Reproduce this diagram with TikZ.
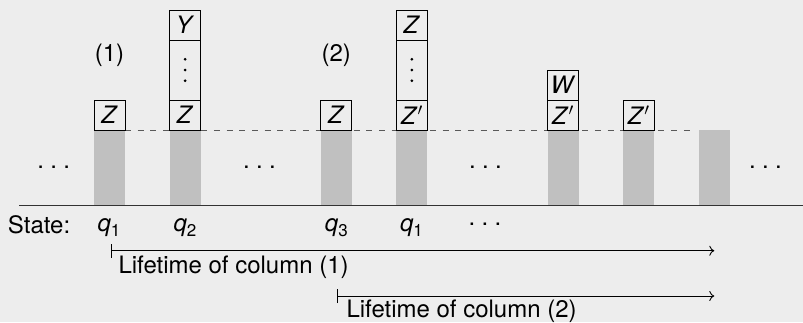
\documentclass[tikz,border=0pt]{standalone}
\usepackage{fontspec}
\setmainfont{TeX Gyre Heros}
\usetikzlibrary{arrows.meta}
\definecolor{bgcol}{HTML}{EDEDED}
\definecolor{barcol}{HTML}{C0C0C0}
\definecolor{rulecol}{HTML}{333333}

% three dots spread out horizontally
\newcommand{\hdotrow}{.\hspace{6.3pt}.\hspace{6.3pt}.}
% state symbol with an upright subscript
\newcommand{\stsym}[2]{\textit{#1}\raisebox{-4.5pt}{\fontsize{17}{20}\selectfont #2}}

\begin{document}
\begin{tikzpicture}[x=1pt,y=-1pt,
  every node/.style={font=\fontsize{24}{28}\selectfont, inner sep=0pt, outer sep=0pt},
  bar/.style={fill=barcol, minimum width=31pt, minimum height=75pt, anchor=south},
  cell/.style={draw=black, line width=0.9pt, minimum width=31pt, minimum height=30pt, anchor=south},
  tallcell/.style={cell, minimum height=60pt},
  vdot/.style={fill=black, circle, minimum size=3pt, anchor=center},
  lifetime/.style={line width=0.9pt, {Bar[width=14pt]}-{To[length=5pt,width=10pt]}},
  txt/.style={anchor=base west},
  sym/.style={anchor=base}
]
\fill[bgcol] (0,0) rectangle (803,322);
\useasboundingbox (0,0) rectangle (803,322);

% tape cells (gray columns)
\node[bar] (bar1) at (109.5,205) {};
\node[bar] (bar2) at (185.1,205) {};
\node[bar] (bar3) at (336.3,205) {};
\node[bar] (bar4) at (411.9,205) {};
\node[bar] (bar5) at (563.1,205) {};
\node[bar] (bar6) at (638.7,205) {};
\node[bar] (bar7) at (714.3,205) {};

% ground line and dashed level line
\coordinate (g0) at (19,205.5);
\coordinate (g1) at (803,205.5);
\draw[rulecol, line width=1.3pt] (g0) -- (g1);
\coordinate (d1) at (693,130);
\draw[black!65, line width=1pt, dash pattern=on 6pt off 6.7pt] (bar1.north east) -- (d1);

% stacks
\node[cell] (z1) at (bar1.north) {\textit{Z}};

\node[cell] (z2) at (bar2.north) {\textit{Z}};
\node[tallcell] (m2) at (z2.north) {};
\node[cell] (y2) at (m2.north) {\textit{Y}};

\node[cell] (z3) at (bar3.north) {\textit{Z}};

\node[cell] (z4) at (bar4.north) {\textit{Z}$'$};
\node[tallcell] (m4) at (z4.north) {};
\node[cell] (y4) at (m4.north) {\textit{Z}};

\node[cell] (z5) at (bar5.north) {\textit{Z}$'$};
\node[cell] (w5) at (z5.north) {\textit{W}};

\node[cell] (z6) at (bar6.north) {\textit{Z}$'$};

% vertical ellipses inside the tall cells
\foreach \m in {m2,m4} {
  \node[vdot] at ([yshift=-10.7pt]\m.center) {};
  \node[vdot] at (\m.center) {};
  \node[vdot] at ([yshift=10.7pt]\m.center) {};
}

% column labels
\node (lab1) at (109.5,55.5) {(1)};
\node (lab2) at (336.3,55.5) {(2)};

% gaps
\node[sym] (gap1) at (53.7,168) {\hdotrow};
\node[sym] (gap2) at (259.5,168) {\hdotrow};
\node[sym] (gap3) at (485.5,168) {\hdotrow};
\node[sym] (gap4) at (765.5,168) {\hdotrow};

% states
\node[txt] (state) at (8,233.5) {State:};
\node[sym] (q1) at (109,231.5) {\stsym{q}{1}};
\node[sym] (q2) at (185,231.5) {\stsym{q}{2}};
\node[sym] (q3) at (336.3,231.5) {\stsym{q}{3}};
\node[sym] (q4) at (411.5,231.5) {\stsym{q}{1}};
\node[sym] (qdots) at (485,225.3) {\hdotrow};

% lifetimes
\coordinate (a1s) at (110.5,250.7);
\coordinate (a1e) at (714.3,250.7);
\draw[lifetime] (a1s) -- (a1e);
\node[txt] (lt1) at (118.5,273) {Lifetime of column (1)};

\coordinate (a2s) at (337,296);
\coordinate (a2e) at (714.3,296);
\draw[lifetime] (a2s) -- (a2e);
\node[txt] (lt2) at (346.5,317) {Lifetime of column (2)};
\end{tikzpicture}
\end{document}
